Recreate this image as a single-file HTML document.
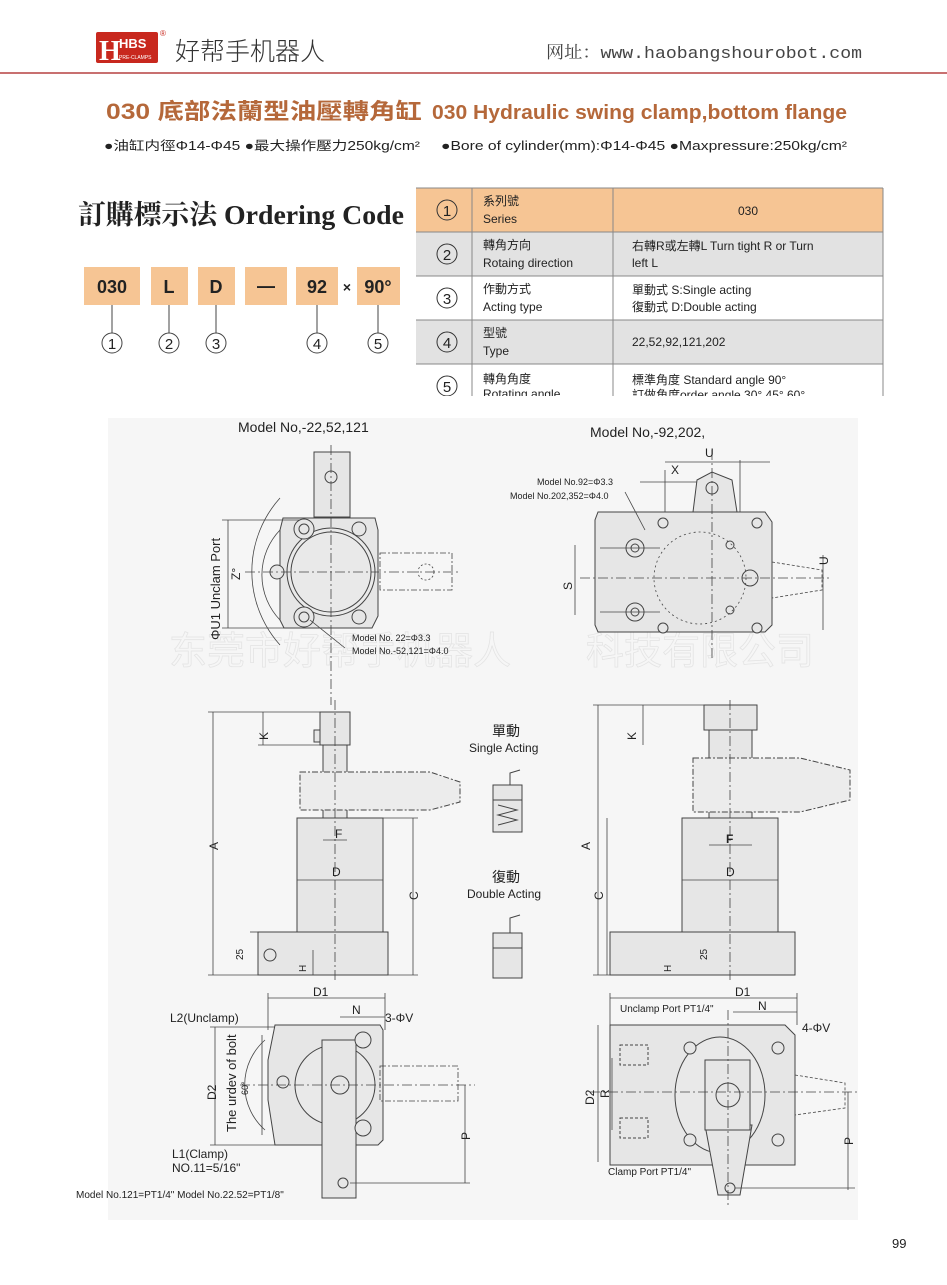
<!DOCTYPE html>
<html><head><meta charset="utf-8"><style>
body{margin:0;background:#fff;}
svg{display:block}
text{font-family:"Liberation Sans","Noto Sans CJK TC",sans-serif;fill:#222}
</style></head><body>
<svg width="947" height="1285" viewBox="0 0 947 1285" xmlns="http://www.w3.org/2000/svg">
<rect x="0" y="0" width="947" height="1285" fill="#fff"/>
<!-- header -->
<rect x="96" y="32" width="62" height="31" fill="#c8281e" rx="2"/>
<text x="99" y="60" font-size="28" font-weight="bold" style="fill:#fff;font-family:'Liberation Serif',serif">H</text>
<text x="119" y="48" font-size="13" font-weight="bold" style="fill:#fff">HBS</text>
<text x="119" y="59" font-size="5" style="fill:#fff">PRE-CLAMPS</text>
<text x="160" y="36" font-size="8" style="fill:#c8281e">®</text>
<text x="175" y="60" font-size="25" style="fill:#333;font-family:'Noto Sans CJK SC',sans-serif;font-weight:300">好帮手机器人</text>
<text x="546" y="58" font-size="17" style="fill:#444;font-family:'Liberation Mono','Noto Serif CJK SC',monospace" textLength="316" lengthAdjust="spacingAndGlyphs">网址：www.haobangshourobot.com</text>
<rect x="0" y="72" width="947" height="2" fill="#c87070"/>
<text x="106" y="119" font-size="22" font-weight="bold" style="fill:#b5683a" textLength="316" lengthAdjust="spacingAndGlyphs">030 底部法蘭型油壓轉角缸</text>
<text x="432" y="119" font-size="20" font-weight="bold" style="fill:#b5683a" textLength="415" lengthAdjust="spacingAndGlyphs">030 Hydraulic swing clamp,bottom flange</text>
<text x="104" y="150" font-size="12.5" textLength="316" lengthAdjust="spacingAndGlyphs">●油缸内徑Φ14-Φ45  ●最大操作壓力250kg/cm²</text>
<text x="441" y="150" font-size="12.5" textLength="406" lengthAdjust="spacingAndGlyphs">●Bore of cylinder(mm):Φ14-Φ45  ●Maxpressure:250kg/cm²</text>
<!-- ordering code -->
<text x="78" y="224" font-size="27" font-weight="bold" style="font-family:'Liberation Serif','Noto Serif CJK SC',serif" textLength="326" lengthAdjust="spacingAndGlyphs">訂購標示法 Ordering Code</text>
<g fill="#f6c594">
<rect x="84" y="267" width="56" height="38"/><rect x="151" y="267" width="37" height="38"/><rect x="198" y="267" width="37" height="38"/><rect x="245" y="267" width="42" height="38"/><rect x="296" y="267" width="42" height="38"/><rect x="357" y="267" width="43" height="38"/>
</g>
<g font-size="18" font-weight="bold" text-anchor="middle">
<text x="112" y="293">030</text><text x="169" y="293">L</text><text x="216" y="293">D</text><text x="266" y="292">—</text><text x="317" y="293">92</text><text x="347" y="292" font-size="14">×</text><text x="378" y="293">90°</text>
</g>
<g stroke="#444" fill="none" stroke-width="1">
<line x1="112" y1="305" x2="112" y2="333"/><line x1="169" y1="305" x2="169" y2="333"/><line x1="216" y1="305" x2="216" y2="333"/><line x1="317" y1="305" x2="317" y2="333"/><line x1="378" y1="305" x2="378" y2="333"/>
<circle cx="112" cy="343" r="10"/><circle cx="169" cy="343" r="10"/><circle cx="216" cy="343" r="10"/><circle cx="317" cy="343" r="10"/><circle cx="378" cy="343" r="10"/>
</g>
<g font-size="15" text-anchor="middle"><text x="112" y="349">1</text><text x="169" y="349">2</text><text x="216" y="349">3</text><text x="317" y="349">4</text><text x="378" y="349">5</text></g>
<!-- table -->
<rect x="416" y="188" width="467" height="44" fill="#f6c594"/>
<rect x="416" y="232" width="467" height="44" fill="#e2e2e2"/>
<rect x="416" y="320" width="467" height="44" fill="#e2e2e2"/>
<g stroke="#888" stroke-width="1">
<line x1="416" y1="188" x2="883" y2="188"/><line x1="416" y1="232" x2="883" y2="232"/><line x1="416" y1="276" x2="883" y2="276"/><line x1="416" y1="320" x2="883" y2="320"/><line x1="416" y1="364" x2="883" y2="364"/>
<line x1="472" y1="188" x2="472" y2="396"/><line x1="613" y1="188" x2="613" y2="396"/><line x1="883" y1="188" x2="883" y2="410"/>
</g>
<g stroke="#333" fill="none"><circle cx="447" cy="210" r="10"/><circle cx="447" cy="254" r="10"/><circle cx="447" cy="298" r="10"/><circle cx="447" cy="342" r="10"/><circle cx="447" cy="386" r="10"/></g>
<g font-size="15" text-anchor="middle"><text x="447" y="216">1</text><text x="447" y="260">2</text><text x="447" y="304">3</text><text x="447" y="348">4</text><text x="447" y="392">5</text></g>
<g font-size="12">
<text x="483" y="205">系列號</text><text x="483" y="223">Series</text>
<text x="748" y="215" text-anchor="middle">030</text>
<text x="483" y="249">轉角方向</text><text x="483" y="267">Rotaing direction</text>
<text x="632" y="250">右轉R或左轉L Turn tight R or Turn</text><text x="632" y="267">left L</text>
<text x="483" y="293">作動方式</text><text x="483" y="311">Acting type</text>
<text x="632" y="294">單動式  S:Single  acting</text><text x="632" y="311">復動式 D:Double  acting</text>
<text x="483" y="337">型號</text><text x="483" y="355">Type</text>
<text x="632" y="346">22,52,92,121,202</text>
<text x="483" y="383">轉角角度</text><text x="483" y="398">Rotating angle</text>
<text x="632" y="384">標準角度 Standard angle 90°</text><text x="632" y="399">訂做角度order angle 30°   45°   60°</text>
</g>
<rect x="410" y="396" width="480" height="16" fill="#fff"/>
<!-- drawing area -->
<rect x="108" y="418" width="750" height="802" fill="#f6f6f6"/>
<text x="340" y="664" font-size="38" style="fill:none;stroke:#e4e4e4;stroke-width:0.8;font-family:'Noto Sans CJK SC',sans-serif" text-anchor="middle">东莞市好帮手机器人</text>
<text x="700" y="664" font-size="38" style="fill:none;stroke:#e4e4e4;stroke-width:0.8;font-family:'Noto Sans CJK SC',sans-serif" text-anchor="middle">科技有限公司</text>
<g font-size="14" style="fill:#333"><text x="238" y="432">Model No,-22,52,121</text><text x="590" y="437">Model No,-92,202,</text></g>
<g stroke="#444" stroke-width="1" fill="#e6e6e6">
<rect x="314" y="452" width="36" height="65"/>
<path d="M283 518 H375 L378 530 V616 L372 628 H284 L280 620 V530Z"/>
<circle cx="331" cy="572" r="44" fill="#e9e9e9"/><circle cx="331" cy="572" r="40" fill="#e9e9e9"/>
<circle cx="331" cy="477" r="6"/>
<circle cx="304" cy="529" r="10"/><circle cx="304" cy="529" r="5"/><circle cx="359" cy="529" r="7"/>
<circle cx="304" cy="617" r="10"/><circle cx="304" cy="617" r="5"/><circle cx="359" cy="617" r="7"/>
<circle cx="277" cy="572" r="7"/>
</g>
<g stroke="#444" stroke-width="0.8" fill="none">
<path d="M280 530 A65 65 0 0 0 280 620" />
<path d="M280 498 A110 110 0 0 0 280 645"/>
<rect x="380" y="553" width="72" height="37" stroke-dasharray="6 2 2 2"/>
<circle cx="426" cy="572" r="8" stroke-dasharray="2 2"/>
<line x1="331" y1="445" x2="331" y2="705" stroke-dasharray="10 3 2 3"/>
<line x1="245" y1="572" x2="460" y2="572" stroke-dasharray="10 3 2 3"/>
<line x1="228" y1="520" x2="228" y2="628"/><line x1="222" y1="520" x2="300" y2="520"/><line x1="222" y1="628" x2="300" y2="628"/>
<line x1="310" y1="620" x2="345" y2="648"/>
<line x1="665" y1="470" x2="665" y2="525"/><line x1="740" y1="460" x2="740" y2="525"/>
<line x1="665" y1="462" x2="770" y2="462"/><line x1="640" y1="482" x2="700" y2="482"/>
<line x1="823" y1="555" x2="823" y2="630"/><line x1="575" y1="545" x2="575" y2="615"/>
</g>
<g stroke="#444" stroke-width="1" fill="#e6e6e6">
<path d="M693 512 L697 480 L712 472 L732 480 L737 512Z"/>
<circle cx="712" cy="488" r="6"/>
<path d="M598 512 H765 L772 522 V625 L765 632 H598 L595 625 V520Z"/>
<circle cx="635" cy="548" r="9"/><circle cx="635" cy="548" r="4"/><circle cx="635" cy="612" r="9"/><circle cx="635" cy="612" r="4"/>
<circle cx="663" cy="523" r="5"/><circle cx="663" cy="628" r="5"/><circle cx="757" cy="523" r="5"/><circle cx="757" cy="628" r="5"/>
<circle cx="750" cy="578" r="8"/><circle cx="730" cy="545" r="4"/><circle cx="730" cy="610" r="4"/>
</g>
<g stroke="#444" stroke-width="0.8" fill="none">
<circle cx="700" cy="578" r="46" stroke-dasharray="2 3"/>
<path d="M772 562 L822 570 V590 L772 598" stroke-dasharray="3 2"/>
<line x1="712" y1="450" x2="712" y2="660" stroke-dasharray="10 3 2 3"/>
<line x1="580" y1="578" x2="830" y2="578" stroke-dasharray="10 3 2 3"/>
<line x1="600" y1="548" x2="660" y2="548"/><line x1="600" y1="612" x2="660" y2="612"/>
<line x1="625" y1="492" x2="645" y2="530"/>
</g>
<g font-size="9"><text x="537" y="485">Model No.92=Φ3.3</text><text x="510" y="499">Model No.202,352=Φ4.0</text>
<text x="352" y="641">Model No. 22=Φ3.3</text><text x="352" y="654">Model No.-52,121=Φ4.0</text></g>
<g font-size="12"><text x="705" y="457">U</text><text x="671" y="474">X</text>
<text transform="translate(572,590) rotate(-90)">S</text><text transform="translate(828,565) rotate(-90)">U</text>
<text transform="translate(240,580) rotate(-90)">Z°</text>
<text transform="translate(220,640) rotate(-90)" font-size="13">ΦU1 Unclam Port</text></g>
<g stroke="#444" stroke-width="1" fill="#e6e6e6">
<rect x="320" y="712" width="30" height="33"/><rect x="314" y="730" width="6" height="12"/>
<rect x="323" y="745" width="24" height="73"/>
<path d="M300 772 H430 L460 782 V802 L430 810 H300Z" stroke-dasharray="6 2 2 2" fill="#ececec"/>
<rect x="297" y="818" width="86" height="114"/>
<rect x="258" y="932" width="130" height="43"/>
<circle cx="270" cy="955" r="6"/>
</g>
<g stroke="#444" stroke-width="1" fill="#e6e6e6">
<rect x="704" y="705" width="53" height="25"/><rect x="709" y="730" width="43" height="88"/>
<path d="M693 758 H800 L850 770 V800 L800 812 H693Z" stroke-dasharray="6 2 2 2" fill="#ececec"/>
<rect x="682" y="818" width="96" height="114"/>
<rect x="610" y="932" width="185" height="43"/>
</g>
<g stroke="#444" stroke-width="0.8" fill="none">
<line x1="213" y1="712" x2="213" y2="975"/><line x1="208" y1="712" x2="320" y2="712"/><line x1="208" y1="975" x2="258" y2="975"/>
<line x1="263" y1="712" x2="263" y2="745"/><line x1="258" y1="745" x2="320" y2="745"/>
<line x1="413" y1="818" x2="413" y2="975"/><line x1="383" y1="818" x2="418" y2="818"/><line x1="388" y1="975" x2="418" y2="975"/>
<line x1="297" y1="880" x2="383" y2="880"/><line x1="323" y1="840" x2="347" y2="840"/>
<line x1="250" y1="932" x2="258" y2="932"/><line x1="313" y1="950" x2="313" y2="975"/>
<line x1="335" y1="700" x2="335" y2="980" stroke-dasharray="10 3 2 3"/>
<line x1="598" y1="705" x2="598" y2="975"/><line x1="593" y1="705" x2="704" y2="705"/><line x1="593" y1="975" x2="610" y2="975"/>
<line x1="643" y1="705" x2="643" y2="745"/>
<line x1="607" y1="818" x2="607" y2="975"/><line x1="682" y1="880" x2="778" y2="880"/><line x1="709" y1="845" x2="752" y2="845"/>
<line x1="730" y1="700" x2="730" y2="980" stroke-dasharray="10 3 2 3"/>
</g>
<g font-size="12"><text x="335" y="838">F</text><text x="332" y="876">D</text><text x="726" y="843" font-weight="bold">F</text><text x="726" y="876">D</text>
<text transform="translate(218,850) rotate(-90)">A</text><text transform="translate(268,740) rotate(-90)">K</text><text transform="translate(418,900) rotate(-90)">C</text>
<text transform="translate(243,960) rotate(-90)" font-size="10">25</text><text transform="translate(306,972) rotate(-90)" font-size="10">H</text>
<text transform="translate(590,850) rotate(-90)">A</text><text transform="translate(636,740) rotate(-90)">K</text><text transform="translate(603,900) rotate(-90)">C</text>
<text transform="translate(707,960) rotate(-90)" font-size="10">25</text><text transform="translate(671,972) rotate(-90)" font-size="10">H</text></g>
<text x="492" y="736" font-size="14">單動</text><text x="469" y="752" font-size="12">Single Acting</text>
<text x="492" y="882" font-size="14">復動</text><text x="467" y="898" font-size="12">Double Acting</text>
<g stroke="#444" fill="#e6e6e6">
<rect x="493" y="785" width="29" height="47"/><rect x="493" y="933" width="29" height="45"/>
<line x1="493" y1="800" x2="522" y2="800"/><line x1="493" y1="948" x2="522" y2="948"/>
<path d="M498 805 L517 810 L498 815 L517 820 L498 825" fill="none"/>
<path d="M520 770 L510 773 V785 M520 915 L510 918 V933" fill="none"/>
</g>
<g stroke="#444" stroke-width="1" fill="#e6e6e6">
<path d="M275 1025 H380 L383 1030 V1140 L378 1145 H275 L268 1100 V1060Z"/>
<circle cx="335" cy="1085" r="40" fill="#e9e9e9"/>
<rect x="322" y="1040" width="34" height="158"/>
<circle cx="340" cy="1085" r="9"/><circle cx="363" cy="1040" r="8"/><circle cx="363" cy="1128" r="8"/><circle cx="283" cy="1082" r="6"/><circle cx="343" cy="1183" r="5"/>
</g>
<g stroke="#444" stroke-width="0.8" fill="none">
<rect x="380" y="1066" width="78" height="35" stroke-dasharray="6 2 2 2"/>
<line x1="215" y1="1027" x2="215" y2="1145"/><line x1="210" y1="1027" x2="275" y2="1027"/><line x1="210" y1="1145" x2="275" y2="1145"/>
<line x1="262" y1="1035" x2="262" y2="1135"/>
<line x1="268" y1="998" x2="385" y2="998"/><line x1="268" y1="993" x2="268" y2="1030"/><line x1="385" y1="993" x2="385" y2="1030"/>
<line x1="340" y1="1017" x2="385" y2="1017"/><line x1="465" y1="1085" x2="465" y2="1183"/><line x1="350" y1="1183" x2="470" y2="1183"/>
<line x1="240" y1="1085" x2="475" y2="1085" stroke-dasharray="10 3 2 3"/>
<path d="M265 1040 A60 60 0 0 0 265 1130"/>
</g>
<g font-size="12"><text x="170" y="1022">L2(Unclamp)</text><text x="313" y="996">D1</text><text x="352" y="1014">N</text><text x="385" y="1022">3-ΦV</text>
<text x="172" y="1158">L1(Clamp)</text><text x="172" y="1172">NO.11=5/16"</text>
<text transform="translate(216,1100) rotate(-90)">D2</text><text transform="translate(236,1132) rotate(-90)" font-size="13">The urdev of bolt</text><text transform="translate(248,1095) rotate(-90)" font-size="9">60°</text>
<text transform="translate(470,1140) rotate(-90)">P</text>
<text x="76" y="1198" font-size="10">Model No.121=PT1/4"  Model No.22.52=PT1/8"</text></g>
<g stroke="#444" stroke-width="1" fill="#e6e6e6">
<path d="M610 1025 H785 L795 1035 V1165 H610Z"/>
<ellipse cx="720" cy="1095" rx="45" ry="58" fill="#e9e9e9"/>
<path d="M705 1125 H752 L740 1195 H718Z"/>
<rect x="705" y="1060" width="45" height="70"/>
<circle cx="728" cy="1095" r="12"/><circle cx="690" cy="1048" r="6"/><circle cx="778" cy="1048" r="6"/><circle cx="690" cy="1140" r="6"/><circle cx="778" cy="1140" r="6"/><circle cx="730" cy="1188" r="5"/>
<rect x="620" y="1045" width="28" height="20" fill="none" stroke-dasharray="3 2"/><rect x="620" y="1118" width="28" height="20" fill="none" stroke-dasharray="3 2"/>
</g>
<g stroke="#444" stroke-width="0.8" fill="none">
<path d="M795 1075 L845 1083 V1108 L795 1115" stroke-dasharray="3 2"/>
<line x1="610" y1="998" x2="797" y2="998"/><line x1="610" y1="993" x2="610" y2="1025"/><line x1="797" y1="993" x2="797" y2="1025"/>
<line x1="733" y1="1012" x2="797" y2="1012"/>
<line x1="598" y1="1025" x2="598" y2="1162"/><line x1="612" y1="1058" x2="612" y2="1130"/>
<line x1="848" y1="1092" x2="848" y2="1190"/><line x1="735" y1="1188" x2="855" y2="1188"/>
<line x1="590" y1="1092" x2="860" y2="1092" stroke-dasharray="10 3 2 3"/>
<line x1="728" y1="1010" x2="728" y2="1205" stroke-dasharray="10 3 2 3"/>
</g>
<g font-size="10"><text x="620" y="1012">Unclamp Port PT1/4"</text><text x="608" y="1175">Clamp Port PT1/4"</text></g>
<g font-size="12"><text x="735" y="996">D1</text><text x="758" y="1010">N</text><text x="802" y="1032">4-ΦV</text>
<text transform="translate(594,1105) rotate(-90)">D2</text><text transform="translate(609,1098) rotate(-90)">R</text>
<text transform="translate(853,1145) rotate(-90)">P</text></g>
<text x="892" y="1248" font-size="13">99</text>
</svg>
</body></html>
